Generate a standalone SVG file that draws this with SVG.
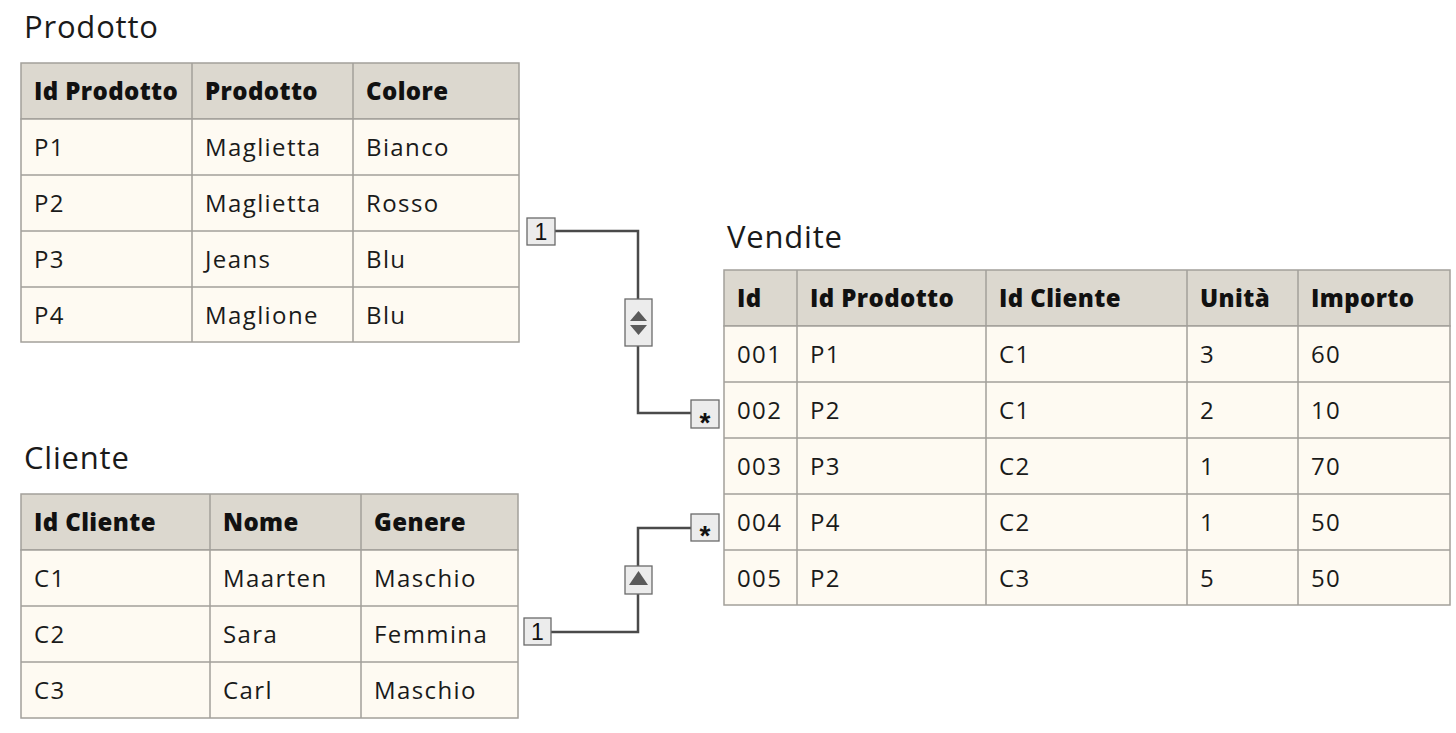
<svg xmlns="http://www.w3.org/2000/svg" width="1456" height="733" viewBox="0 0 1456 733">
<style>
.title{font-family:"Open Sans","Liberation Sans",sans-serif;font-size:31px;letter-spacing:0.8px;fill:#1a1a1a}
.hd{fill:#dcd8cf;stroke:#a3a09a;stroke-width:1.5}
.bd{fill:#fefaf2;stroke:#a3a09a;stroke-width:1.5}
.ht{font-family:"Open Sans","Liberation Sans",sans-serif;font-size:24px;font-weight:800;letter-spacing:0.4px;fill:#111}
.bt{font-family:"Open Sans","Liberation Sans",sans-serif;font-size:24px;letter-spacing:1.4px;fill:#1a1a1a}
.ln{fill:none;stroke:#4a4a4a;stroke-width:2.5}
.bx{fill:#ececec;stroke:#6a6a6a;stroke-width:1.3}
.bxt{font-family:"Liberation Sans",Arial,sans-serif;font-size:23px;fill:#111;text-anchor:middle}
.ast{font-family:"Liberation Sans",Arial,sans-serif;font-size:28px;font-weight:bold;fill:#111;text-anchor:middle}
.tri{fill:#5a5a5a}
</style>
<rect width="1456" height="733" fill="#ffffff"/>

<g id="prodotto">
<text class="title" x="24" y="38">Prodotto</text>
<rect class="hd" x="21" y="63" width="498" height="56"/>
<rect class="bd" x="21" y="119" width="498" height="223"/>
<path d="M21 175H519M21 231H519M21 287H519M192 63V342M353 63V342" stroke="#a3a09a" stroke-width="1.5"/>
<text class="ht" x="34" y="100">Id Prodotto</text>
<text class="ht" x="205" y="100">Prodotto</text>
<text class="ht" x="366" y="100">Colore</text>
<text class="bt" x="34" y="156">P1</text><text class="bt" x="205" y="156">Maglietta</text><text class="bt" x="366" y="156">Bianco</text>
<text class="bt" x="34" y="212">P2</text><text class="bt" x="205" y="212">Maglietta</text><text class="bt" x="366" y="212">Rosso</text>
<text class="bt" x="34" y="268">P3</text><text class="bt" x="205" y="268">Jeans</text><text class="bt" x="366" y="268">Blu</text>
<text class="bt" x="34" y="324">P4</text><text class="bt" x="205" y="324">Maglione</text><text class="bt" x="366" y="324">Blu</text>
</g>

<g id="cliente">
<text class="title" x="24" y="469">Cliente</text>
<rect class="hd" x="21" y="494" width="497" height="56"/>
<rect class="bd" x="21" y="550" width="497" height="168"/>
<path d="M21 606H518M21 662H518M210 494V718M361 494V718" stroke="#a3a09a" stroke-width="1.5"/>
<text class="ht" x="34" y="531">Id Cliente</text>
<text class="ht" x="223" y="531">Nome</text>
<text class="ht" x="374" y="531">Genere</text>
<text class="bt" x="34" y="587">C1</text><text class="bt" x="223" y="587">Maarten</text><text class="bt" x="374" y="587">Maschio</text>
<text class="bt" x="34" y="643">C2</text><text class="bt" x="223" y="643">Sara</text><text class="bt" x="374" y="643">Femmina</text>
<text class="bt" x="34" y="699">C3</text><text class="bt" x="223" y="699">Carl</text><text class="bt" x="374" y="699">Maschio</text>
</g>

<g id="vendite">
<text class="title" x="727" y="248">Vendite</text>
<rect class="hd" x="724" y="270" width="726" height="56"/>
<rect class="bd" x="724" y="326" width="726" height="279"/>
<path d="M724 382H1450M724 438H1450M724 494H1450M724 550H1450M797 270V605M986 270V605M1187 270V605M1298 270V605" stroke="#a3a09a" stroke-width="1.5"/>
<text class="ht" x="737" y="307">Id</text>
<text class="ht" x="810" y="307">Id Prodotto</text>
<text class="ht" x="999" y="307">Id Cliente</text>
<text class="ht" x="1200" y="307">Unità</text>
<text class="ht" x="1311" y="307">Importo</text>
<text class="bt" x="737" y="363">001</text><text class="bt" x="810" y="363">P1</text><text class="bt" x="999" y="363">C1</text><text class="bt" x="1200" y="363">3</text><text class="bt" x="1311" y="363">60</text>
<text class="bt" x="737" y="419">002</text><text class="bt" x="810" y="419">P2</text><text class="bt" x="999" y="419">C1</text><text class="bt" x="1200" y="419">2</text><text class="bt" x="1311" y="419">10</text>
<text class="bt" x="737" y="475">003</text><text class="bt" x="810" y="475">P3</text><text class="bt" x="999" y="475">C2</text><text class="bt" x="1200" y="475">1</text><text class="bt" x="1311" y="475">70</text>
<text class="bt" x="737" y="531">004</text><text class="bt" x="810" y="531">P4</text><text class="bt" x="999" y="531">C2</text><text class="bt" x="1200" y="531">1</text><text class="bt" x="1311" y="531">50</text>
<text class="bt" x="737" y="587">005</text><text class="bt" x="810" y="587">P2</text><text class="bt" x="999" y="587">C3</text><text class="bt" x="1200" y="587">5</text><text class="bt" x="1311" y="587">50</text>
</g>

<g id="connectors">
<path class="ln" d="M555 231H638V299M638 346V413H691"/>
<path class="ln" d="M551 632H638V593M638 566V528H691"/>
</g>

<g id="rel-prodotto-vendite">
<rect class="bx" x="527" y="218" width="28" height="27"/>
<text class="bxt" x="541" y="240">1</text>
<rect class="bx" x="625" y="299" width="27" height="47"/>
<path class="tri" d="M638.5 311L630 321H647Z"/>
<path class="tri" d="M630 325H647L638.5 335Z"/>
<rect class="bx" x="691" y="400" width="28" height="28"/>
<text class="ast" x="705" y="432">*</text>
</g>

<g id="rel-cliente-vendite">
<rect class="bx" x="524" y="618" width="27" height="27"/>
<text class="bxt" x="537.5" y="640">1</text>
<rect class="bx" x="625" y="566" width="27" height="28"/>
<path class="tri" d="M638.5 571L629 585H648Z"/>
<rect class="bx" x="691" y="514" width="28" height="27"/>
<text class="ast" x="705" y="545">*</text>
</g>
</svg>
